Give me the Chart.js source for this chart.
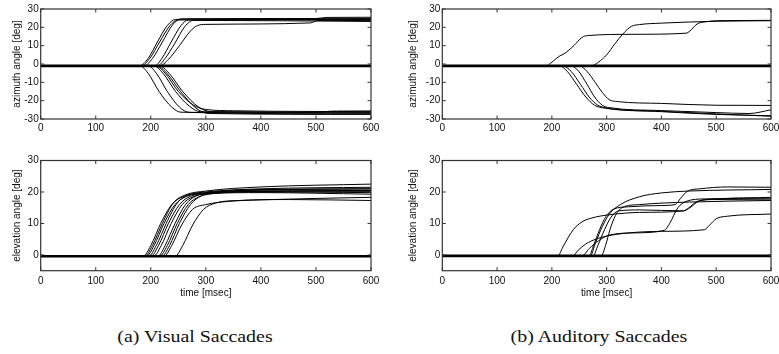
<!DOCTYPE html>
<html>
<head>
<meta charset="utf-8">
<script src="https://cdn.jsdelivr.net/npm/chart.js@4.4.1/dist/chart.umd.min.js"></script>
<style>
  html, body { margin: 0; padding: 0; background: #fff; }
  #lamina { position: relative; width: 779px; height: 354px; overflow: hidden; background: #fff; }
  #lamina canvas { position: absolute; }
  .leyenda {
    position: absolute; width: 300px; text-align: center;
    font-family: "Liberation Serif", "Times New Roman", serif; font-size: 17px;
    color: #111; transform: scaleX(1.17); transform-origin: center; white-space: nowrap;
  }
</style>
</head>
<body>
<div id="lamina">
  <canvas id="visAz"></canvas>
  <canvas id="visEl"></canvas>
  <canvas id="audAz"></canvas>
  <canvas id="audEl"></canvas>
  <div class="leyenda" style="left:45px; top:327px;">(a) Visual Saccades</div>
  <div class="leyenda" style="left:449px; top:327px;">(b) Auditory Saccades</div>
</div>

<script>
// ==================== DATOS ====================
// Ejes
const ticksTiempo = [0, 100, 200, 300, 400, 500, 600];
const ticksAzimut = [-30, -20, -10, 0, 10, 20, 30];
const ticksElevacion = [0, 10, 20, 30];

// Línea gruesa: ensayos sin movimiento en ese eje (muchos solapados)
const baseVisAz = -1;
const baseVisEl = -0.4;
const baseAudAz = -1;
const baseAudEl = -0.3;

// Sacadas visuales, azimut: [tiempo ms, grados]
const visualAzimut = [
  [[0, -1], [180, -1], [195, 3], [212, 12], [230, 21], [245, 24.3], [300, 24.6], [600, 24.8]],
  [[0, -1], [183, -1], [198, 3], [216, 12], [235, 21], [250, 24], [400, 24.2], [600, 23.6]],
  [[0, -1], [188, -1], [203, 3], [221, 12], [240, 21.5], [255, 24.6], [500, 24.8], [520, 25.4], [600, 25.5]],
  [[0, -1], [207, -1], [220, 3], [237, 12], [255, 21], [268, 24], [600, 24.3]],
  [[0, -1], [212, -1], [226, 3], [243, 11], [262, 20.5], [278, 23.8], [600, 23.2]],
  [[0, -1], [216, -1], [232, 2.5], [252, 10], [272, 18], [285, 21], [300, 21.6], [490, 22.4], [505, 23.8], [600, 24]],
  [[0, -1], [180, -1], [195, -5], [215, -15], [238, -23.5], [255, -26.3], [400, -26.6], [600, -26.8]],
  [[0, -1], [195, -1], [210, -5], [230, -15], [252, -23.5], [270, -26.4], [600, -27.2]],
  [[0, -1], [205, -1], [222, -5], [245, -15], [270, -23], [290, -26], [500, -26.3], [530, -25.7], [600, -25.6]],
  [[0, -1], [208, -1], [226, -5], [250, -15], [278, -22.5], [300, -24.8], [350, -25.5], [600, -26]],
  [[0, -1], [211, -1], [229, -5], [254, -15], [282, -24], [305, -27], [600, -27.5]],
  [[0, -1], [215, -1], [233, -5], [258, -15], [287, -23.5], [310, -26], [600, -26.4]]
];

// Sacadas visuales, elevación
const visualElevacion = [
  [[0, -0.4], [186, -0.4], [200, 3], [218, 10], [238, 16], [258, 18.5], [300, 19.8], [400, 20.8], [600, 21]],
  [[0, -0.4], [189, -0.4], [203, 3], [221, 10], [241, 16.5], [262, 19], [300, 20.3], [400, 21.6], [600, 22.5]],
  [[0, -0.4], [192, -0.4], [206, 3], [224, 10], [244, 16], [265, 18.6], [300, 19.6], [400, 20.2], [600, 20.5]],
  [[0, -0.4], [196, -0.4], [210, 3], [228, 10], [248, 16.5], [268, 19], [300, 20], [400, 21], [600, 21.5]],
  [[0, -0.4], [200, -0.4], [214, 3], [232, 10], [252, 16], [272, 18.6], [300, 19.5], [400, 20], [600, 19.8]],
  [[0, -0.4], [205, -0.4], [219, 3], [237, 10], [257, 16], [277, 18.5], [310, 19.5], [400, 19.8], [600, 19.3]],
  [[0, -0.4], [213, -0.4], [226, 3], [244, 10], [263, 16], [283, 18.8], [320, 20], [400, 20.6], [600, 21]],
  [[0, -0.4], [216, -0.4], [230, 3], [248, 10], [268, 16], [288, 18.5], [320, 19.6], [400, 20.2], [600, 20.2]],
  [[0, -0.4], [220, -0.4], [234, 3], [252, 10], [272, 16], [292, 18.8], [320, 19.8], [400, 20.6], [600, 20.5]],
  [[0, -0.4], [224, -0.4], [238, 3], [256, 9.5], [276, 14.5], [300, 16], [340, 17], [400, 17.5], [600, 18.3]],
  [[0, -0.4], [244, -0.4], [258, 3], [276, 9.5], [296, 14.5], [318, 16.5], [360, 17.3], [450, 17.6], [600, 17.3]]
];

// Sacadas auditivas, azimut
const auditivoAzimut = [
  [[0, -1], [190, -1], [198, 0.5], [208, 3], [215, 4.5], [222, 5.5], [240, 10], [255, 14.5], [265, 15.5], [350, 16.2], [445, 16.8], [452, 18], [465, 21.8], [480, 23], [520, 23.7], [600, 23.8]],
  [[0, -1], [272, -1], [285, 1], [300, 5], [315, 11], [330, 16.5], [345, 20.5], [360, 21.5], [400, 22.3], [500, 23.3], [600, 23.6]],
  [[0, -1], [214, -1], [228, -4], [245, -11], [262, -18], [278, -22.5], [295, -24], [400, -25.8], [500, -27.2], [600, -28.5]],
  [[0, -1], [220, -1], [235, -4], [252, -11], [268, -18], [284, -22.5], [300, -24], [400, -26], [500, -27.5], [600, -28.2]],
  [[0, -1], [235, -1], [249, -4], [264, -11], [278, -18], [292, -22.5], [305, -23.8], [400, -25.4], [500, -26.5], [560, -27], [600, -25]],
  [[0, -1], [250, -1], [264, -4], [279, -10], [292, -15.5], [305, -19.5], [320, -20.5], [400, -21.5], [500, -22.5], [600, -22.6]]
];

// Sacadas auditivas, elevación
const auditivoElevacion = [
  [[0, -0.3], [211, -0.3], [220, 2.5], [239, 8], [255, 10.5], [270, 11.6], [306, 12.8], [360, 13.5], [440, 14], [450, 15], [465, 17], [500, 17.8], [600, 18.3]],
  [[0, -0.3], [238, -0.3], [248, 1.5], [262, 3.5], [280, 5], [300, 6], [340, 7], [400, 7.5], [478, 8], [488, 9.5], [500, 11.5], [520, 12.3], [600, 13]],
  [[0, -0.3], [255, -0.3], [268, 2], [285, 4.5], [305, 6.3], [350, 7], [405, 7.8], [415, 10], [430, 15], [445, 17], [480, 17.8], [600, 18]],
  [[0, -0.3], [268, -0.3], [276, 3], [287, 8], [298, 12], [312, 14.5], [340, 15.3], [400, 15.7], [425, 16], [435, 18], [448, 20.3], [470, 21], [520, 21.6], [600, 21.5]],
  [[0, -0.3], [270, -0.3], [280, 4], [292, 9], [305, 13], [325, 16], [360, 18.5], [400, 19.7], [450, 20.3], [600, 20.8]],
  [[0, -0.3], [275, -0.3], [284, 3], [296, 8], [308, 12], [322, 14], [360, 14.3], [440, 14], [452, 15], [470, 17.2], [500, 17.6], [600, 17.5]],
  [[0, -0.3], [290, -0.3], [298, 3], [306, 8], [316, 12.5], [328, 15], [360, 16], [450, 16.8], [600, 17.3]]
];

// ==================== GRÁFICOS ====================
const fuente = { family: "'Liberation Sans', Arial, sans-serif", size: 10 };

// Marco y marcas hacia dentro (estilo MATLAB)
const marcoPlugin = {
  id: "marco",
  afterDatasetsDraw(chart) {
    const { ctx, chartArea: a, scales } = chart;
    ctx.save();
    ctx.strokeStyle = "#333";
    ctx.lineWidth = 1.2;
    ctx.strokeRect(a.left, a.top, a.right - a.left, a.bottom - a.top);
    ctx.lineWidth = 1;
    ctx.beginPath();
    scales.x.ticks.forEach(t => {
      const px = scales.x.getPixelForValue(t.value);
      ctx.moveTo(px, a.top); ctx.lineTo(px, a.top + 3.5);
      ctx.moveTo(px, a.bottom); ctx.lineTo(px, a.bottom - 3.5);
    });
    scales.y.ticks.forEach(t => {
      const py = scales.y.getPixelForValue(t.value);
      ctx.moveTo(a.left, py); ctx.lineTo(a.left + 3.5, py);
      ctx.moveTo(a.right, py); ctx.lineTo(a.right - 3.5, py);
    });
    ctx.stroke();
    ctx.restore();
  }
};

function crearGrafico(id, lienzo, area, trazas, base, yMin, yMax, yTicks, tituloY, tituloYx, conTiempo) {
  const canvas = document.getElementById(id);
  canvas.width = lienzo.width;
  canvas.height = lienzo.height;
  canvas.style.left = lienzo.left + "px";
  canvas.style.top = lienzo.top + "px";

  const anchoY = area.left - lienzo.left;
  const altoX = lienzo.top + lienzo.height - area.bottom;

  const datasets = trazas.map(tr => ({
    data: tr.map(([x, y]) => ({ x, y })),
    borderColor: "#000",
    borderWidth: 1,
    pointRadius: 0,
    fill: false,
    cubicInterpolationMode: "monotone"
  }));
  datasets.push({
    data: [{ x: 0, y: base }, { x: 600, y: base }],
    borderColor: "#000",
    borderWidth: 2.6,
    pointRadius: 0,
    fill: false
  });

  return new Chart(canvas.getContext("2d"), {
    type: "line",
    data: { datasets },
    options: {
      responsive: false,
      animation: false,
      devicePixelRatio: 1,
      layout: {
        padding: {
          left: 0,
          right: lienzo.left + lienzo.width - area.right,
          top: area.top - lienzo.top,
          bottom: 0
        }
      },
      plugins: { legend: { display: false }, tooltip: { enabled: false } },
      scales: {
        x: {
          type: "linear",
          min: 0,
          max: 600,
          grid: { display: false, drawTicks: false },
          border: { display: false },
          afterBuildTicks: s => { s.ticks = ticksTiempo.map(v => ({ value: v })); },
          afterFit: s => { s.height = altoX; },
          ticks: {
            font: fuente, color: "#111", padding: conTiempo ? 5 : 3,
            autoSkip: false, maxRotation: 0, callback: v => String(v)
          },
          title: {
            display: conTiempo,
            text: "time [msec]",
            font: fuente,
            color: "#111",
            padding: { top: 0, bottom: 10.5 }
          }
        },
        y: {
          type: "linear",
          min: yMin,
          max: yMax,
          grid: { display: false, drawTicks: false },
          border: { display: false },
          afterBuildTicks: s => { s.ticks = yTicks.map(v => ({ value: v })); },
          afterFit: s => { s.width = anchoY; },
          ticks: {
            font: fuente, color: "#111", padding: 2,
            autoSkip: false, callback: v => String(v)
          },
          title: {
            display: true,
            text: tituloY,
            font: fuente,
            color: "#111",
            padding: { top: tituloYx - lienzo.left - 6, bottom: 0 }
          }
        }
      }
    },
    plugins: [marcoPlugin]
  });
}

// (a) Visual
crearGrafico("visAz", { left: 0, top: 0, width: 390, height: 145 },
  { left: 40.7, right: 371, top: 9, bottom: 119 },
  visualAzimut, baseVisAz, -30, 30, ticksAzimut, "azimuth angle [deg]", 17.5, false);

crearGrafico("visEl", { left: 0, top: 145, width: 390, height: 165 },
  { left: 40.7, right: 371, top: 160.5, bottom: 270.7 },
  visualElevacion, baseVisEl, -5, 30, ticksElevacion, "elevation angle [deg]", 17.5, true);

// (b) Auditivo
crearGrafico("audAz", { left: 390, top: 0, width: 400, height: 145 },
  { left: 442.3, right: 771, top: 9, bottom: 119 },
  auditivoAzimut, baseAudAz, -30, 30, ticksAzimut, "azimuth angle [deg]", 413.5, false);

crearGrafico("audEl", { left: 390, top: 145, width: 400, height: 165 },
  { left: 442.3, right: 771, top: 160.5, bottom: 270.7 },
  auditivoElevacion, baseAudEl, -5, 30, ticksElevacion, "elevation angle [deg]", 413.5, true);
</script>
</body>
</html>
